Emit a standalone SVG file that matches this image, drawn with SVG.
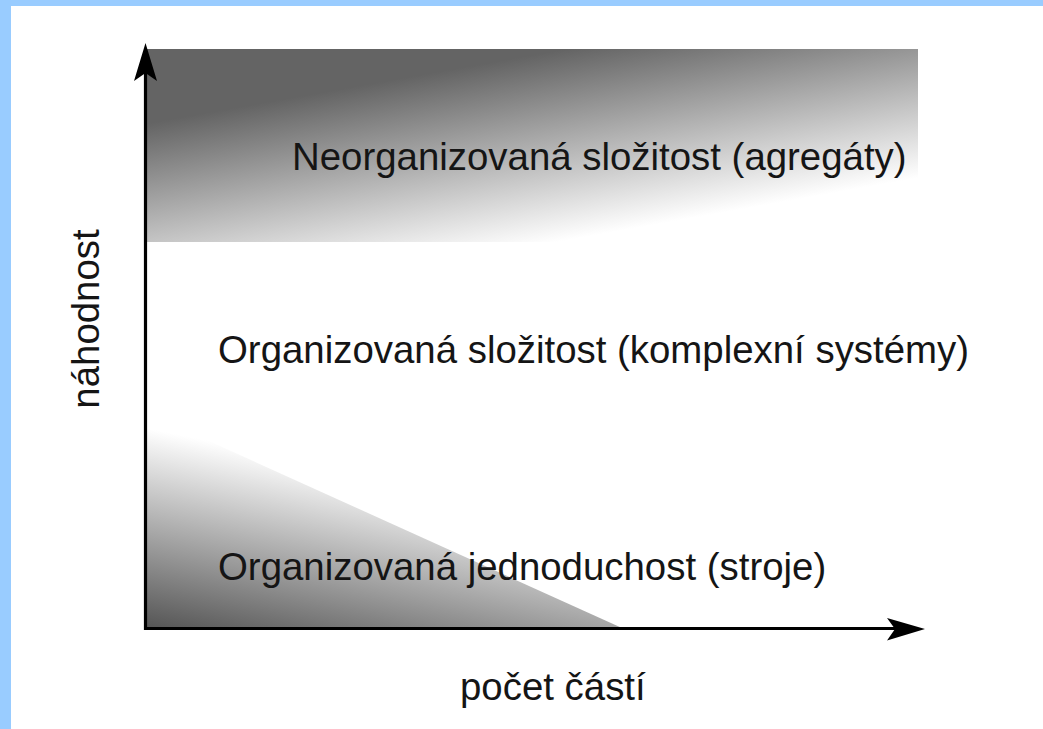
<svg xmlns="http://www.w3.org/2000/svg" width="1043" height="729" viewBox="0 0 1043 729">
  <style>
    .lbl { font-family: "Liberation Sans", Arial, sans-serif; font-size: 38.4px; fill: #151515; }
    .axis { stroke: #000; stroke-width: 3.2; fill: none; }
    .head { fill: #000; stroke: none; }
  </style>
  <defs>
    <linearGradient id="gTop" gradientUnits="userSpaceOnUse" x1="150" y1="123" x2="182.8" y2="308.2">
      <stop offset="0" stop-color="#646464"/>
      <stop offset="1" stop-color="#ffffff"/>
    </linearGradient>
    <linearGradient id="gTri" gradientUnits="userSpaceOnUse" x1="147" y1="628" x2="185.4" y2="436">
      <stop offset="0" stop-color="#555555"/>
      <stop offset="1" stop-color="#ffffff"/>
    </linearGradient>
  </defs>
  <rect x="0" y="0" width="1043" height="729" fill="#ffffff"/>
  <rect x="0" y="0" width="1043" height="6" fill="#99ccff"/>
  <rect x="0" y="0" width="11" height="729" fill="#99ccff"/>

  <g id="region-neorganizovana">
    <rect x="147" y="49" width="771" height="193" fill="url(#gTop)"/>
    <text class="lbl" x="292" y="170">Neorganizovaná složitost (agregáty)</text>
  </g>
  <g id="region-organizovana-slozitost">
    <text class="lbl" x="218" y="363">Organizovaná složitost (komplexní systémy)</text>
  </g>
  <g id="region-jednoduchost">
    <path d="M147,413 L622,628 L147,628 Z" fill="url(#gTri)"/>
    <text class="lbl" x="218" y="580">Organizovaná jednoduchost (stroje)</text>
  </g>

  <g id="axes">
    <path class="axis" d="M145.5,72 V628.5 H895" stroke-linejoin="miter" stroke-linecap="square"/>
    <path class="head" d="M145.5,43 L157,81 L145.5,73 L134,81 Z"/>
    <path class="head" d="M925,629 L887,618 L895,629 L887,640.5 Z"/>
  </g>
  <g id="axis-labels">
    <text class="lbl" x="460" y="700">počet částí</text>
    <text class="lbl" transform="translate(99,319) rotate(-90)" text-anchor="middle">náhodnost</text>
  </g>
</svg>
